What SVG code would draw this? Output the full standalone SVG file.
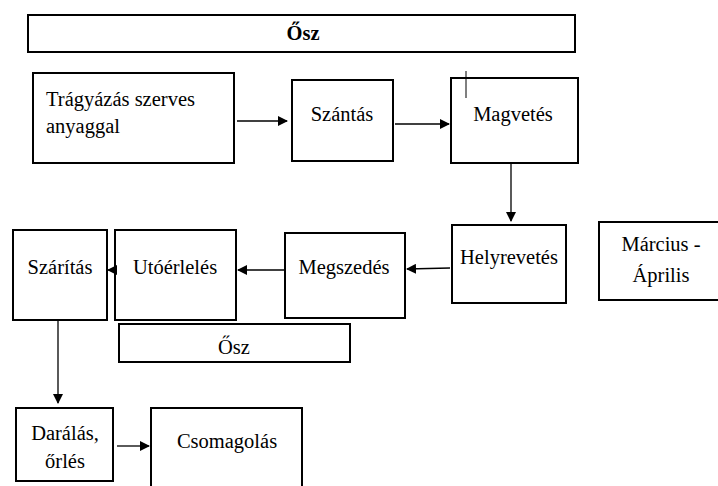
<svg xmlns="http://www.w3.org/2000/svg" width="718" height="486" viewBox="0 0 718 486">
<style>
.b{fill:#fff;stroke:#000;stroke-width:2}
.t{font-family:"Liberation Serif","Times New Roman",serif;font-size:20.5px;fill:#000}
.c{text-anchor:middle}
.a{stroke:#000;stroke-width:1.3;fill:none;marker-end:url(#ah)}
</style>
<defs>
<marker id="ah" markerWidth="10" markerHeight="10" refX="9" refY="5" orient="auto" markerUnits="userSpaceOnUse">
<path d="M0,0 L10,5 L0,10 Z" fill="#000"/>
</marker>
</defs>
<rect width="718" height="486" fill="#fff"/>
<g id="osz-top"><rect class="b" x="28" y="15" width="547" height="37"/><text class="t c" x="303" y="40" font-weight="bold">Ősz</text></g>
<g id="tragyazas"><rect class="b" x="33" y="73" width="201" height="90"/><text class="t" x="46" y="106">Trágyázás szerves</text><text class="t" x="46" y="133">anyaggal</text></g>
<g id="szantas"><rect class="b" x="292" y="80" width="101" height="81"/><text class="t c" x="342" y="121">Szántás</text></g>
<g id="magvetes"><rect class="b" x="451" y="78" width="127" height="85"/><text class="t c" x="513" y="121">Magvetés</text><line x1="466" y1="71" x2="466" y2="98" stroke="#000" stroke-width="1"/></g>
<g id="helyrevetes"><rect class="b" x="452" y="225" width="114" height="78"/><text class="t c" x="509" y="264">Helyrevetés</text></g>
<g id="marcius"><rect class="b" x="599" y="222" width="120" height="78"/><text class="t c" x="661" y="251">Március -</text><text class="t c" x="661" y="282">Április</text></g>
<g id="megszedes"><rect class="b" x="285" y="233" width="120" height="85"/><text class="t c" x="344" y="274">Megszedés</text></g>
<g id="utoerleles"><rect class="b" x="115" y="230" width="121" height="90"/><text class="t c" x="175" y="274">Utóérlelés</text></g>
<g id="szaritas"><rect class="b" x="13" y="230" width="94" height="90"/><text class="t c" x="60" y="274">Szárítás</text></g>
<g id="osz-bottom"><rect class="b" x="119" y="324" width="231" height="38"/><text class="t c" x="234" y="354">Ősz</text></g>
<g id="daralas"><rect class="b" x="16" y="408" width="97" height="73"/><text class="t c" x="65" y="440">Darálás,</text><text class="t c" x="65" y="468">őrlés</text></g>
<g id="csomagolas"><rect class="b" x="151" y="408" width="151" height="90"/><text class="t c" x="227" y="448">Csomagolás</text></g>
<g id="connectors">
<line class="a" x1="237" y1="121" x2="287" y2="121"/>
<line class="a" x1="395" y1="124" x2="449" y2="124"/>
<line class="a" x1="511" y1="163" x2="511" y2="221"/>
<line class="a" x1="450" y1="268" x2="407" y2="269"/>
<line class="a" x1="284" y1="270" x2="238" y2="270"/>
<line class="a" x1="115" y1="270" x2="108" y2="270"/>
<line class="a" x1="58" y1="320" x2="58" y2="403"/>
<line class="a" x1="117" y1="446" x2="149" y2="446"/>
</g>
</svg>
